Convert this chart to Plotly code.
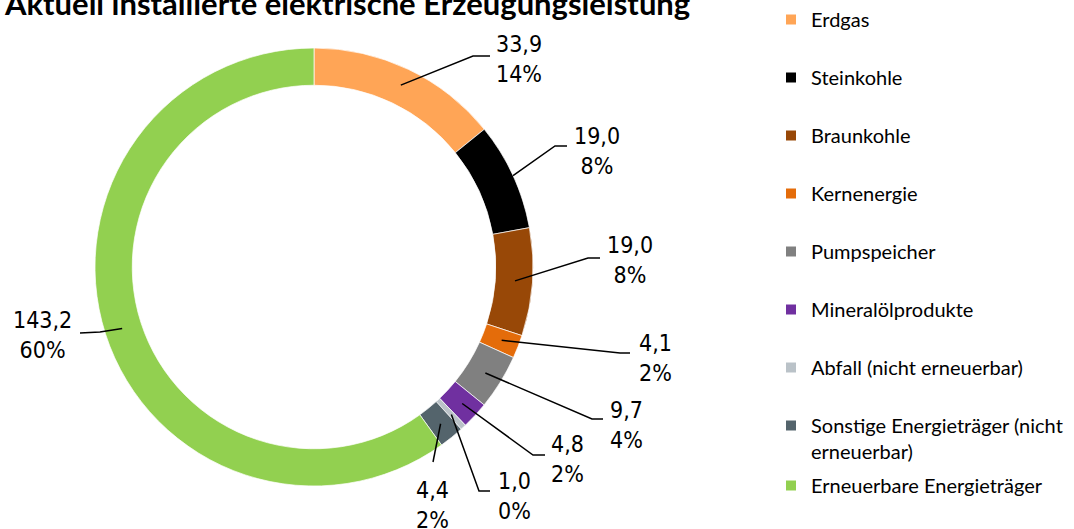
import math
import plotly.graph_objects as go

# ---- data ----
categories = ["Erdgas", "Steinkohle", "Braunkohle", "Kernenergie", "Pumpspeicher",
              "Mineralölprodukte", "Abfall (nicht erneuerbar)",
              "Sonstige Energieträger (nicht erneuerbar)", "Erneuerbare Energieträger"]
legend_labels = ["Erdgas", "Steinkohle", "Braunkohle", "Kernenergie", "Pumpspeicher",
                 "Mineralölprodukte", "Abfall (nicht erneuerbar)",
                 "Sonstige Energieträger (nicht<br>erneuerbar)", "Erneuerbare Energieträger"]
values = [33.9, 19.0, 19.0, 4.1, 9.7, 4.8, 1.0, 4.4, 143.2]
title_text = "Aktuell installierte elektrische Erzeugungsleistung"

# ---- styles ----
colors = ["#FFA556", "#000000", "#984807", "#E46C0A", "#808080",
          "#7030A0", "#BAC2C8", "#54646C", "#92D050"]
W, H = 1074, 529
CX, CY, R = 314, 267, 219          # pie centre / radius in px
HOLE = 0.83
anchor_r = [0.92, 1.0, 0.92, 0.92, 0.92, 0.92, 0.92, 0.92, 0.92]
label_center = [(519, 59), (597, 151), (630, 260), (655, 358), (626, 425),
                (567, 459), (514, 496), (432, 505), (42, 335)]
leader_elbow = [(473, 56), (555, 146), (588, 258), (620, 353), (592, 419),
                (533, 455), (479, 491), (433, 462), (100, 332)]
leader_end = [(490, 56), (567, 146), (600, 258), (630, 353), (603, 419),
              (545, 455), (490, 491), (433, 462), (80, 333)]

LABEL_FONT = "DejaVu Sans Condensed, DejaVu Sans, sans-serif"
LEG_FONT = "Lato, Noto Sans, sans-serif"


def px(x):
    return x / W


def py(y):
    return 1 - y / H


total = sum(values)
fig = go.Figure()

fig.add_trace(go.Pie(
    labels=categories, values=values, sort=False, direction="clockwise", rotation=0,
    hole=HOLE, marker=dict(colors=colors, line=dict(color="white", width=0.7)),
    textinfo="none", hoverinfo="label+value+percent", showlegend=False,
    domain=dict(x=[px(CX - R), px(CX + R)], y=[py(CY + R), py(CY - R)]),
))

# legend entries (one group each so spacing can be controlled)
for i, (lab, col) in enumerate(zip(legend_labels, colors)):
    fig.add_trace(go.Scatter(
        x=[None], y=[None], mode="markers", name=lab,
        marker=dict(symbol="square", size=10, color=col),
        legendgroup=f"g{i}",
        legend="legend" if i < len(values) - 1 else "legend2",
        hoverinfo="skip",
    ))

# labels and leader lines
cum = 0.0
for i, v in enumerate(values):
    mid = (cum + v / 2) / total
    cum += v
    theta = 2 * math.pi * mid
    ra = R * anchor_r[i]
    ax_ = CX + ra * math.sin(theta)
    ay_ = CY - ra * math.cos(theta)
    ex, ey = leader_elbow[i]
    fx, fy = leader_end[i]
    path = f"M {px(ax_)},{py(ay_)} L {px(ex)},{py(ey)} L {px(fx)},{py(fy)}"
    fig.add_shape(type="path", path=path, xref="paper", yref="paper",
                  line=dict(color="black", width=1.5))
    pct = round(v / total * 100)
    txt = f"{v:.1f}".replace(".", ",") + f"<br>{pct:.0f}%"
    lx, ly = label_center[i]
    fig.add_annotation(text=txt, x=px(lx), y=py(ly), xref="paper", yref="paper",
                       xanchor="center", yanchor="middle", align="center",
                       showarrow=False, font=dict(family=LABEL_FONT, size=23, color="#000000"))

fig.update_layout(
    width=W, height=H, autosize=False,
    margin=dict(l=0, r=0, t=0, b=0),
    paper_bgcolor="white", plot_bgcolor="white",
    xaxis=dict(visible=False), yaxis=dict(visible=False),
    title=dict(text=f"<b>{title_text}</b>", x=px(5), xanchor="left", xref="paper",
               y=1 - 4 / H, yref="container", yanchor="middle",
               font=dict(family=LEG_FONT, size=31, color="#000000")),
    legend=dict(x=px(771), y=1.0, xanchor="left", yanchor="top",
                traceorder="grouped", tracegroupgap=29, valign="top",
                font=dict(family=LEG_FONT, size=20, color="#000000"),
                bgcolor="rgba(0,0,0,0)"),
    legend2=dict(x=px(771), y=1 - 466 / H, xanchor="left", yanchor="top",
                 valign="top", font=dict(family=LEG_FONT, size=20, color="#000000"),
                 bgcolor="rgba(0,0,0,0)"),
)

fig.write_html("out.html", config={"displayModeBar": False},
               post_script="document.body.style.margin='0px';")
